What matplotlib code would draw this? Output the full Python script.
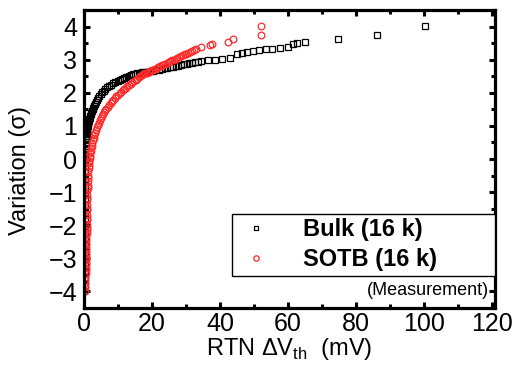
import matplotlib
matplotlib.use('Agg')
import matplotlib.pyplot as plt
from matplotlib.ticker import MultipleLocator

plt.rcParams['font.family'] = ['Liberation Sans', 'DejaVu Sans']
plt.rcParams['mathtext.fontset'] = 'custom'
plt.rcParams['mathtext.rm'] = 'Liberation Sans'

# Bulk (16 k): RTN dVth (mV) vs variation (sigma)
bulk_dvth = [100.3, 86.4, 74.8, 65.2, 62.7, 61.4, 60.1, 57.8, 55.2, 53.7,
             51.6, 49.7, 47.9, 46.4, 44.9, 42.9, 40.6, 38.5, 36.5, 34.3,
             32.6, 31.0, 29.4, 27.8, 26.1, 24.5, 23.0, 21.3, 19.6, 18.3,
             17.0, 15.7, 14.4, 13.1, 11.8, 10.6, 9.2, 7.8, 6.8, 5.8,
             4.9, 4.2, 3.5, 2.9, 2.5, 2.1, 1.8, 1.5, 1.3, 1.1,
             0.9, 0.8, 0.7, 0.6, 0.5, 0.4, 0.35, 0.3,
             0.25, 0.25, 0.25, 0.25, 0.25, 0.25, 0.25, 0.25, 0.25, 0.25,
             0.2, 0.2, 0.2, 0.2, 0.2, 0.2, 0.2, 0.2, 0.2, 0.1,
             0.32, 0.38, 0.45, 0.55, 0.65, 0.75, 0.85, 1.0, 1.2, 1.4,
             1.65, 1.95, 2.3, 2.7, 3.2, 3.85, 4.55, 5.35, 6.3, 7.3,
             8.5, 9.9, 11.2, 12.45, 13.75, 15.05, 16.35, 17.65, 18.95, 20.45,
             22.15, 23.75, 25.3, 26.95, 28.6, 30.2, 31.8, 33.45]
bulk_sigma = [4.02, 3.75, 3.64, 3.54, 3.49, 3.46, 3.38, 3.34, 3.33, 3.31,
              3.28, 3.26, 3.23, 3.19, 3.16, 3.06, 3.02, 3.00, 2.98, 2.95,
              2.92, 2.89, 2.86, 2.82, 2.78, 2.75, 2.72, 2.68, 2.65, 2.63,
              2.62, 2.60, 2.56, 2.51, 2.45, 2.39, 2.32, 2.25, 2.17, 2.06,
              1.95, 1.84, 1.72, 1.60, 1.50, 1.40, 1.30, 1.20, 1.10, 1.00,
              0.90, 0.80, 0.70, 0.60, 0.45, 0.30, 0.15, 0.00,
              -0.2, -0.4, -0.6, -0.8, -1.0, -1.2, -1.4, -1.6, -1.8, -2.0,
              -2.2, -2.4, -2.6, -2.8, -3.0, -3.2, -3.4, -3.6, -3.8, -4.0,
              0.08, 0.22, 0.38, 0.52, 0.65, 0.75, 0.85, 0.95, 1.05, 1.15,
              1.25, 1.35, 1.45, 1.55, 1.66, 1.78, 1.90, 2.01, 2.12, 2.21,
              2.29, 2.36, 2.42, 2.48, 2.54, 2.58, 2.61, 2.625, 2.64, 2.665,
              2.70, 2.735, 2.765, 2.80, 2.84, 2.875, 2.905, 2.935]

# SOTB (16 k)
sotb_dvth = [52.0, 52.0, 43.9, 42.4, 37.8, 37.1, 34.3, 33.0, 31.7, 30.6,
             29.6, 28.6, 27.5, 26.5, 25.4, 24.4, 23.4, 22.4, 21.4, 20.4,
             19.5, 18.5, 17.5, 16.6, 15.7, 14.7, 13.8, 12.8, 11.8, 10.9,
             10.0, 9.1, 8.2, 7.4, 6.6, 5.9, 5.2, 4.6, 4.0, 3.5,
             3.0, 2.6, 2.3, 2.0, 1.8, 1.6, 1.4, 1.3,
             1.3, 1.2, 1.1, 1.0, 1.0, 1.0, 1.0, 1.0, 1.0, 1.0, 1.0, 1.0,
             0.5, 0.5, 0.5, 0.5, 0.5, 0.5, 0.5, 0.5, 0.4, 0.3, 0.2,
             1.35, 1.5, 1.7, 1.9, 2.15, 2.45, 2.8, 3.25, 3.75, 4.3,
             4.9, 5.55, 6.25, 7.0, 7.8, 8.65, 9.55, 10.45, 11.35, 12.3,
             13.3, 14.25, 15.2, 16.15, 17.05, 18.0, 19.0, 19.9, 20.9, 21.9,
             22.9, 23.9, 24.9, 26.0, 27.0, 28.1, 29.1, 30.1, 31.1, 32.3,
             1.15, 1.05, 1.0, 1.0, 1.0, 1.0, 0.9, 0.5, 0.5, 0.5,
             0.5, 0.5, 0.5, 0.5, 0.45, 0.35, 0.3]
sotb_sigma = [4.02, 3.76, 3.63, 3.54, 3.48, 3.43, 3.37, 3.31, 3.25, 3.20,
              3.16, 3.11, 3.06, 3.00, 2.95, 2.90, 2.85, 2.80, 2.76, 2.70,
              2.66, 2.61, 2.56, 2.50, 2.43, 2.36, 2.28, 2.20, 2.11, 2.02,
              1.93, 1.84, 1.74, 1.63, 1.52, 1.42, 1.30, 1.17, 1.03, 0.88,
              0.72, 0.56, 0.40, 0.25, 0.10, -0.05, -0.20, -0.35,
              -0.50, -0.65, -0.80, -0.95, -1.10, -1.25, -1.40, -1.55, -1.70, -1.85, -2.00, -2.15,
              -2.30, -2.45, -2.60, -2.75, -2.90, -3.05, -3.20, -3.35, -3.55, -3.75, -4.00,
              -0.28, -0.12, 0.02, 0.18, 0.33, 0.48, 0.64, 0.80, 0.96, 1.10,
              1.24, 1.36, 1.47, 1.58, 1.69, 1.79, 1.89, 1.98, 2.07, 2.16,
              2.24, 2.32, 2.40, 2.47, 2.53, 2.59, 2.64, 2.68, 2.73, 2.78,
              2.83, 2.88, 2.93, 2.98, 3.03, 3.09, 3.14, 3.18, 3.23, 3.28,
              -0.58, -0.88, -1.18, -1.48, -1.78, -2.08, -2.23, -2.38, -2.53, -2.68,
              -2.83, -2.98, -3.13, -3.28, -3.45, -3.65, -3.88]

fig = plt.figure(figsize=(5.17, 3.72), dpi=100)
ax = fig.add_axes([0.1625, 0.172, 0.795, 0.801])

ax.plot(bulk_dvth, bulk_sigma, linestyle='none', marker='s', markersize=4.2,
        markerfacecolor='none', markeredgecolor='black', markeredgewidth=0.9,
        label='Bulk (16 k)')
ax.plot(sotb_dvth, sotb_sigma, linestyle='none', marker='o', markersize=4.8,
        markerfacecolor='none', markeredgecolor='#ff2a2a', markeredgewidth=0.9,
        label='SOTB (16 k)')

ax.set_xlim(0, 121)
ax.set_ylim(-4.5, 4.5)
ax.xaxis.set_major_locator(MultipleLocator(20))
ax.xaxis.set_minor_locator(MultipleLocator(10))
ax.yaxis.set_major_locator(MultipleLocator(1))
ax.yaxis.set_minor_locator(MultipleLocator(0.5))

for s in ax.spines.values():
    s.set_linewidth(2.3)
ax.tick_params(which='both', direction='in', top=True, right=True,
               labelsize=18, width=2.2)
ax.tick_params(which='major', length=4.5)
ax.tick_params(which='minor', length=3)
ax.tick_params(axis='x', pad=3)
ax.tick_params(axis='y', pad=5)

ax.set_xlabel('RTN $\\Delta$V$_{\\rm th}$  (mV)', fontsize=17, labelpad=0)
ax.set_ylabel('Variation (σ)', fontsize=17)
ax.yaxis.set_label_coords(-0.13, 0.46)

leg = ax.legend(loc='lower left', bbox_to_anchor=(0.36, 0.107, 0.64, 0.212),
                mode='expand', borderaxespad=0, fancybox=False, framealpha=1,
                borderpad=0.2, handletextpad=1.2, labelspacing=0.3,
                handlelength=1.6, prop={'weight': 'bold', 'size': 17},
                markerscale=0.8)
leg.get_frame().set_edgecolor('black')
leg.get_frame().set_linewidth(1.0)

ax.text(0.985, 0.06, '(Measurement)', transform=ax.transAxes, ha='right',
        va='center', fontsize=13)

fig.savefig('out.png', dpi=100)
